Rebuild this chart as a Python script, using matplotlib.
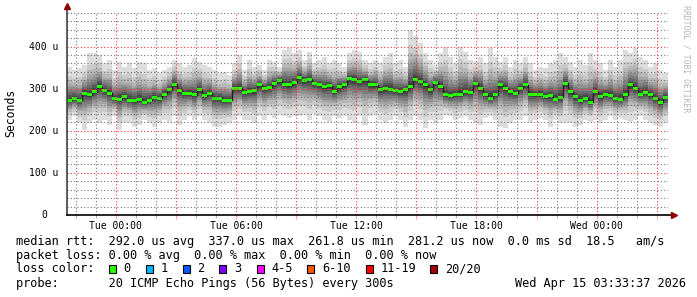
import numpy as np
import pandas as pd
import matplotlib
matplotlib.use('Agg')
import matplotlib.pyplot as plt
import matplotlib.dates as mdates
from matplotlib.ticker import MultipleLocator, FuncFormatter, NullFormatter
from matplotlib.patches import Rectangle

# ---------------- data ----------------
start_time = '2026-04-13 21:33:37'
step = '15min'

median_us = [273, 277, 273, 289, 285, 293, 305, 296, 289, 277, 275, 281, 273, 271, 275, 268, 273, 279, 277, 287, 297, 311, 296, 289, 289, 285, 297, 283, 289, 277,
             277, 273, 273, 301, 301, 291, 293, 296, 309, 301, 303, 313, 319, 311, 309, 315, 327, 319, 322, 313, 309, 305, 307, 294, 305, 309, 324, 322, 317, 321,
             310, 309, 297, 301, 299, 296, 293, 297, 305, 322, 317, 309, 297, 315, 305, 285, 283, 287, 287, 293, 291, 313, 301, 285, 277, 285, 309, 301, 293, 289,
             301, 309, 287, 285, 287, 281, 283, 275, 279, 313, 293, 281, 273, 277, 268, 293, 281, 287, 283, 277, 275, 285, 309, 301, 287, 291, 285, 277, 268, 279]

max_us = [352, 344, 348, 356, 384, 384, 380, 360, 368, 344, 364, 352, 360, 348, 364, 360, 344, 348, 336, 344, 352, 368, 360, 352, 356, 372, 364, 356, 352, 344,
          336, 340, 333, 360, 380, 344, 368, 352, 356, 344, 368, 364, 352, 392, 396, 384, 392, 368, 388, 360, 368, 376, 360, 368, 360, 352, 384, 392, 388, 368,
          360, 368, 360, 376, 384, 360, 368, 352, 440, 425, 408, 384, 368, 356, 384, 400, 376, 360, 400, 388, 368, 364, 376, 360, 396, 376, 364, 376, 352, 368,
          360, 376, 360, 344, 352, 348, 360, 368, 384, 376, 364, 352, 368, 356, 384, 368, 360, 344, 368, 352, 368, 392, 384, 396, 376, 368, 352, 360, 344, 336]

min_us = [226, 234, 218, 202, 218, 226, 218, 226, 214, 234, 202, 218, 222, 210, 214, 226, 218, 210, 218, 226, 222, 234, 214, 226, 234, 226, 234, 226, 222, 210,
          210, 214, 218, 226, 234, 226, 226, 218, 234, 226, 238, 230, 241, 234, 230, 234, 234, 238, 226, 241, 234, 226, 222, 234, 230, 234, 226, 218, 234, 214,
          234, 241, 226, 218, 226, 234, 226, 210, 226, 234, 226, 206, 226, 218, 226, 238, 234, 226, 230, 234, 226, 218, 214, 230, 234, 226, 210, 206, 218, 226,
          226, 234, 218, 226, 230, 226, 210, 226, 218, 222, 218, 210, 214, 226, 222, 226, 218, 226, 234, 226, 230, 226, 222, 226, 234, 226, 218, 214, 210, 218]

loss_labels = ['0', '1', '2', '3', '4-5', '6-10', '11-19', '20/20']
loss_colors = ['#26ff00', '#00b8ff', '#0059ff', '#7e00ff', '#ff00ff', '#ff5500', '#ff0000', '#a10000']

ytick_vals = [0, 100, 200, 300, 400]
ytick_labels = ['0', '100 u', '200 u', '300 u', '400 u']

rtt_avg, rtt_max, rtt_min, rtt_now, rtt_sd, rtt_ams = '292.0', '337.0', '261.8', '281.2', '0.0', '18.5'
loss_avg, loss_max, loss_min, loss_now = '0.00', '0.00', '0.00', '0.00'
probe_text = '20 ICMP Echo Pings (56 Bytes) every 300s'
stamp_text = 'Wed Apr 15 03:33:37 2026'

# ---------------- figure ----------------
plt.rcParams['font.family'] = ['DejaVu Sans Mono']
W, H = 697, 297
L, R, T, B = 67, 668, 12, 215
fig = plt.figure(figsize=(W / 100, H / 100), dpi=100, facecolor='white')
ax = fig.add_axes([L / W, 1 - B / H, (R - L) / W, (B - T) / H])
ax.set_facecolor('white')

n = len(median_us)
edges = pd.date_range(start_time, periods=n + 1, freq=step)
med = np.array(median_us, float)
hi = np.array(max_us, float)
lo = np.array(min_us, float)

def ext(a):
    return np.append(a, a[-1])

# smoke layers (20 pings -> 10 shades)
fracs = [1.0, 0.73, 0.59, 0.47, 0.39, 0.31, 0.23, 0.16, 0.10, 0.04]
for i, f in enumerate(fracs):
    g = (221 - 19 * i) / 255.0
    low = med - f * (med - lo)
    up = med + f * (hi - med)
    ax.fill_between(edges, ext(low), ext(up), step='post', color=(g, g, g), lw=0, zorder=1)

ax.step(edges, ext(med), where='post', color='#202020', lw=1.0, zorder=2)
sw = 3.6
ax.fill_between(edges, ext(med - sw), ext(med + sw), step='post', color=loss_colors[0], lw=0, zorder=2.2)

ax.set_xlim(edges[0], edges[-1])
ax.set_ylim(0, 482)

# grid / ticks
ax.xaxis.set_major_locator(mdates.HourLocator(byhour=range(0, 24, 3)))
ax.xaxis.set_minor_locator(mdates.HourLocator())
def xfmt(v, p):
    d = mdates.num2date(v)
    return d.strftime('%a %H:%M') if d.hour % 6 == 0 else ''
ax.xaxis.set_major_formatter(FuncFormatter(xfmt))
ax.yaxis.set_major_locator(MultipleLocator(100))
ax.yaxis.set_minor_locator(MultipleLocator(20))
ax.yaxis.set_major_formatter(NullFormatter())

ax.set_axisbelow(False)
ax.grid(which='minor', color=(0.45, 0.45, 0.45, 0.25), lw=0.8, linestyle=(0, (1, 2)))
ax.grid(which='major', color=(1.0, 0.2, 0.2, 0.3), lw=0.8, linestyle=(0, (1, 2)))

ax.tick_params(axis='x', which='major', direction='out', length=3, width=0.8,
               color=(1.0, 0.3, 0.3, 0.5), labelsize=7, pad=1.5, labelcolor='black')
ax.tick_params(axis='x', which='minor', direction='out', length=2, width=0.8,
               color=(0.4, 0.4, 0.4, 0.5))
ax.tick_params(axis='y', which='both', direction='out', length=0)

for s in ax.spines.values():
    s.set_visible(False)

ytr = ax.get_yaxis_transform()
for v, lab in zip(ytick_vals, ytick_labels):
    xr = (58 - L) / (R - L) if lab != '0' else (47 - L) / (R - L)
    ax.text(xr, v, lab, transform=ytr, ha='right', va='center', fontsize=7, clip_on=False)

# axis lines and arrows
ax.plot([0, 0], [0, 1 + 4 / (B - T)], transform=ax.transAxes, clip_on=False,
        color='#404040', lw=1.2, zorder=5)
ax.plot([0, 1 + 4 / (R - L)], [0, 0], transform=ax.transAxes, clip_on=False,
        color='black', lw=1.2, zorder=5)
ax.plot([0], [1 + 6 / (B - T)], marker='^', ms=4.5, color='#900000', mec='#900000',
        transform=ax.transAxes, clip_on=False, zorder=6)
ax.plot([1 + 6 / (R - L)], [0], marker='>', ms=4.5, color='#900000', mec='#900000',
        transform=ax.transAxes, clip_on=False, zorder=6)

# ---------------- texts ----------------
def fx(x):
    return x / W
def fy(y):
    return 1 - y / H

fs = 8.6
fig.text(fx(11), fy(113), 'Seconds', rotation=90, ha='center', va='center', fontsize=8.3)
fig.text(fx(686), fy(5), 'RRDTOOL / TOBI OETIKER', rotation=270, ha='center', va='top',
         fontsize=5.9, color='#b4b4b4')

line1 = (f'median rtt:  {rtt_avg} us avg  {rtt_max} us max  {rtt_min} us min  '
         f'{rtt_now} us now  {rtt_sd} ms sd  {rtt_ams}   am/s')
line2 = f'packet loss: {loss_avg} % avg  {loss_max} % max  {loss_min} % min  {loss_now} % now'
fig.text(fx(16), fy(241), line1, ha='left', va='center', fontsize=fs)
fig.text(fx(16), fy(255), line2, ha='left', va='center', fontsize=fs)
fig.text(fx(16), fy(269), 'loss color:', ha='left', va='center', fontsize=fs)
fig.text(fx(16), fy(283), 'probe:       ' + probe_text, ha='left', va='center', fontsize=fs)
fig.text(fx(686), fy(283), stamp_text, ha='right', va='center', fontsize=fs)

box_x = [108.5, 145.7, 182.7, 219.3, 256.7, 307.3, 366.0, 430.0]
for bx, lab, col in zip(box_x, loss_labels, loss_colors):
    fig.add_artist(Rectangle((fx(bx), fy(273)), 7 / W, 8 / H, transform=fig.transFigure,
                             facecolor=col, edgecolor='black', lw=0.8))
    fig.text(fx(bx + 14.7), fy(269), lab, ha='left', va='center', fontsize=fs)

fig.savefig('out.png', dpi=100, facecolor='white')
